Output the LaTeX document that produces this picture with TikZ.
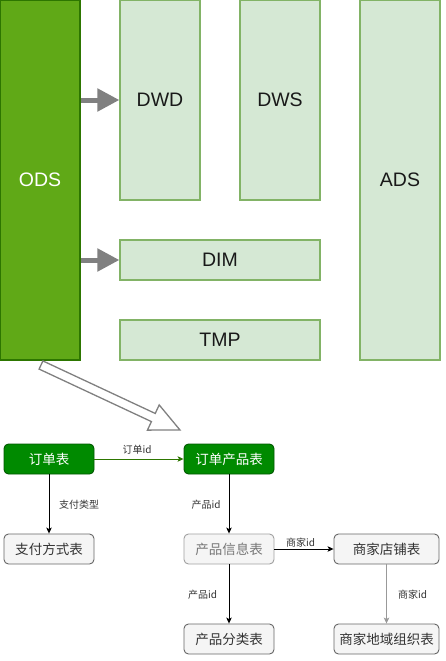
\documentclass[tikz,border=0pt]{standalone}
\usepackage{fontspec}
\setmainfont{Liberation Sans}
\newfontfamily\cjk{Noto Sans CJK SC}
\usetikzlibrary{arrows.meta}
\definecolor{odsfill}{HTML}{60A917}
\definecolor{odsdraw}{HTML}{2D7600}
\definecolor{lyfill}{HTML}{D5E8D4}
\definecolor{lydraw}{HTML}{82B366}
\definecolor{tbgfill}{HTML}{008A00}
\definecolor{tbgdraw}{HTML}{005700}
\definecolor{tbfill}{HTML}{F5F5F5}
\definecolor{tbdraw}{HTML}{666666}
\definecolor{tbtext}{HTML}{333333}
\definecolor{lightdraw}{HTML}{A0A0A0}
\definecolor{lighttext}{HTML}{777777}
\definecolor{arrowgray}{HTML}{808080}
\definecolor{edgegreen}{HTML}{2D7600}
\definecolor{edgegray}{HTML}{999999}
\tikzset{
  layer/.style={rectangle, draw=lydraw, fill=lyfill, line width=1.2pt, inner sep=0pt,
    text=black!90, font=\fontsize{19.5}{23}\selectfont},
  tbl/.style={rectangle, rounded corners=4.5pt, draw=tbdraw, fill=tbfill, line width=0.9pt,
    inner sep=0pt, minimum width=90pt, minimum height=30pt, text=tbtext,
    font=\cjk\fontsize{13.5}{16}\selectfont},
  tblgreen/.style={tbl, draw=tbgdraw, fill=tbgfill, text=white},
  tbllight/.style={tbl, draw=lightdraw, text=lighttext},
  fatarrow/.style={draw=arrowgray, line width=5pt, -{Triangle[length=22pt,width=22pt]}},
  edge/.style={draw=black, line width=0.9pt, -{Stealth[length=6pt,width=5.5pt,inset=1.5pt]}},
  lbl/.style={font=\cjk\fontsize{10}{12}\selectfont, text=tbtext, inner sep=0pt},
}
\begin{document}
\begin{tikzpicture}[x=1pt,y=-1pt]
\useasboundingbox (0,0) rectangle (446,661);
% layers
\node[layer, fill=odsfill, draw=odsdraw, text=white, minimum width=80pt, minimum height=360pt] (ODS) at (40,180) {ODS};
\node[layer, minimum width=80pt, minimum height=200pt] (DWD) at (160,100) {DWD};
\node[layer, minimum width=80pt, minimum height=200pt] (DWS) at (280,100) {DWS};
\node[layer, minimum width=80pt, minimum height=360pt] (ADS) at (400,180) {ADS};
\node[layer, minimum width=200pt, minimum height=40pt] (DIM) at (220,260) {DIM};
\node[layer, minimum width=200pt, minimum height=40pt] (TMP) at (220,340) {TMP};
\draw[fatarrow] (ODS.east |- DWD.west) -- (DWD.west);
\draw[fatarrow] (ODS.east |- DIM.west) -- (DIM.west);
% hollow arrow
\begin{scope}[shift={(41,365)}, rotate=-25.06]
  \draw[draw=arrowgray, fill=white, line width=1.3pt, line join=miter]
    (0,4.5) -- (124,4.5) -- (124,13.9) -- (153.4,0) -- (124,-13.9) -- (124,-4.5) -- (0,-4.5) -- cycle;
\end{scope}
% tables
\node[tblgreen] (ord) at (49,459) {订单表};
\node[tblgreen] (ordprod) at (229,459) {订单产品表};
\node[tbl] (pay) at (49,549) {支付方式表};
\node[tbllight] (prodinfo) at (229,549) {产品信息表};
\node[tbl, minimum width=105pt] (shop) at (386.5,549) {商家店铺表};
\node[tbl] (cat) at (229,639) {产品分类表};
\node[tbl, minimum width=105pt] (region) at (386.5,639) {商家地域组织表};
% relations
\draw[edge, draw=edgegreen] (ord) -- (ordprod) node[lbl, midway, xshift=-2pt, yshift=9.5pt] {订单id};
\draw[edge] (ord) -- (pay) node[lbl, midway, xshift=30pt, yshift=-1pt] {支付类型};
\draw[edge] (ordprod) -- (prodinfo) node[lbl, midway, xshift=-23pt, yshift=-1pt] {产品id};
\draw[edge] (prodinfo) -- (shop) node[lbl, midway, xshift=-3.5pt, yshift=6pt] {商家id};
\draw[edge] (prodinfo) -- (cat) node[lbl, midway, xshift=-26.5pt, yshift=-1pt] {产品id};
\draw[edge, draw=edgegray] (shop) -- (region) node[lbl, midway, xshift=26pt, yshift=-1pt] {商家id};
\end{tikzpicture}
\end{document}
